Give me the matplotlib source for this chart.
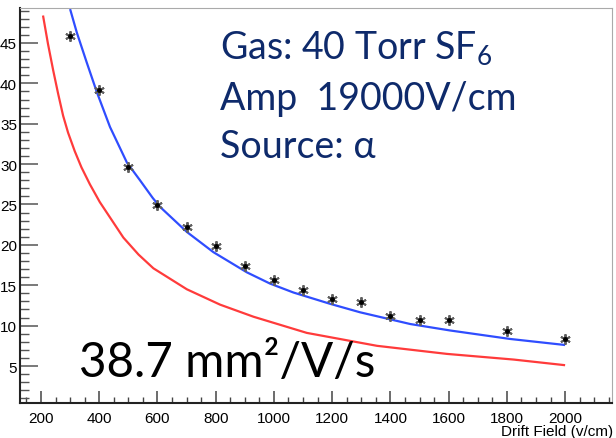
import matplotlib
matplotlib.use("Agg")
import matplotlib.pyplot as plt
from matplotlib.ticker import MultipleLocator

# ---- data ----
drift_field = [300, 400, 500, 600, 700, 800, 900, 1000, 1100, 1200, 1300,
               1400, 1500, 1600, 1800, 2000]
measured = [45.9, 39.2, 29.7, 24.9, 22.2, 19.9, 17.4, 15.6, 14.4, 13.3, 12.9,
            11.2, 10.7, 10.7, 9.3, 8.3]

blue_x = [300, 323, 357, 392, 437, 495, 540, 584, 609, 701, 792, 907, 987,
          1067, 1193, 1296, 1468, 1605, 1811, 2000]
blue_y = [49.2, 46.3, 42.6, 38.9, 34.6, 30.2, 28.0, 25.8, 24.7, 21.6, 19.1,
          16.6, 15.2, 14.1, 12.7, 11.65, 10.2, 9.4, 8.35, 7.6]

red_x = [207, 224, 242, 259, 276, 293, 316, 339, 368, 402, 483, 535, 586,
         701, 815, 930, 1113, 1354, 1594, 1823, 2000]
red_y = [48.4, 44.9, 41.6, 38.7, 36.0, 33.9, 31.6, 29.6, 27.5, 25.3, 20.9,
         18.8, 17.1, 14.5, 12.6, 11.1, 9.1, 7.5, 6.5, 5.8, 5.1]

info_lines = ["Gas: 40 Torr SF$_{\\mathrm{6}}$", "Amp  19000V/cm", "Source: α"]
big_label = "38.7 mm²/V/s"
x_title = "Drift Field (v/cm)"

plt.rcParams['mathtext.fontset'] = 'custom'
plt.rcParams['mathtext.rm'] = 'Lato'
plt.rcParams['mathtext.it'] = 'Lato:italic'

W, H = 616, 439
fig = plt.figure(figsize=(W / 100, H / 100), dpi=100)
ax = fig.add_axes([20.3 / W, 1 - 404 / H, (612 - 20.3) / W, (404 - 9) / H])

ax.plot(red_x, red_y, color='#ff3b3b', lw=1.6, solid_capstyle='butt')
ax.plot(blue_x, blue_y, color='#2f4dff', lw=1.6, solid_capstyle='butt')
ax.plot(drift_field, measured, linestyle='none', marker=(6, 2, 0),
        markersize=7.5, markeredgewidth=1.4, color='#606060')
ax.plot(drift_field, measured, linestyle='none', marker='o',
        markersize=2.5, color='black')

ax.set_xlim(129, 2161)
ax.set_ylim(0.42, 49.33)

ax.xaxis.set_major_locator(MultipleLocator(200))
ax.xaxis.set_minor_locator(MultipleLocator(50))
ax.yaxis.set_major_locator(MultipleLocator(5))
ax.yaxis.set_minor_locator(MultipleLocator(1))

ax.tick_params(axis='x', which='major', direction='in', length=8.6,
               width=1.1, color='#444444', pad=6, labelsize=11)
ax.tick_params(axis='x', which='minor', direction='in', length=4.3,
               width=1.0, color='#444444')
ax.tick_params(axis='y', which='major', direction='in', length=13.2,
               width=1.1, color='#555555', pad=2.4, labelsize=11)
ax.tick_params(axis='y', which='minor', direction='in', length=6.6,
               width=1.0, color='#555555')

yt = list(range(5, 50, 5))
ax.set_yticks(yt)
ax.set_yticklabels([str(t) for t in yt], fontfamily='Liberation Sans')
xt = list(range(200, 2001, 200))
ax.set_xticks(xt)
ax.set_xticklabels([str(t) for t in xt], fontfamily='Liberation Sans')

for s in ['left', 'bottom']:
    ax.spines[s].set_linewidth(1.5)
    ax.spines[s].set_color('#222222')
for s in ['top', 'right']:
    ax.spines[s].set_linewidth(0.8)
    ax.spines[s].set_color('#aaaaaa')

fig.text(613.5 / W, 1 - 436 / H, x_title, ha='right', va='baseline',
         fontsize=11, family='Liberation Sans')

navy = '#0e2a6b'
baselines = [59, 110, 158]
for txt, yb in zip(info_lines, baselines):
    fig.text(220 / W, 1 - yb / H, txt, ha='left', va='baseline',
             fontsize=27, color=navy, family=['Lato', 'DejaVu Sans'])

fig.text(79 / W, 1 - 376.7 / H, big_label, ha='left', va='baseline',
         fontsize=34.3, color='black', family=['Lato', 'DejaVu Sans'])

fig.savefig('out.png', dpi=100)
